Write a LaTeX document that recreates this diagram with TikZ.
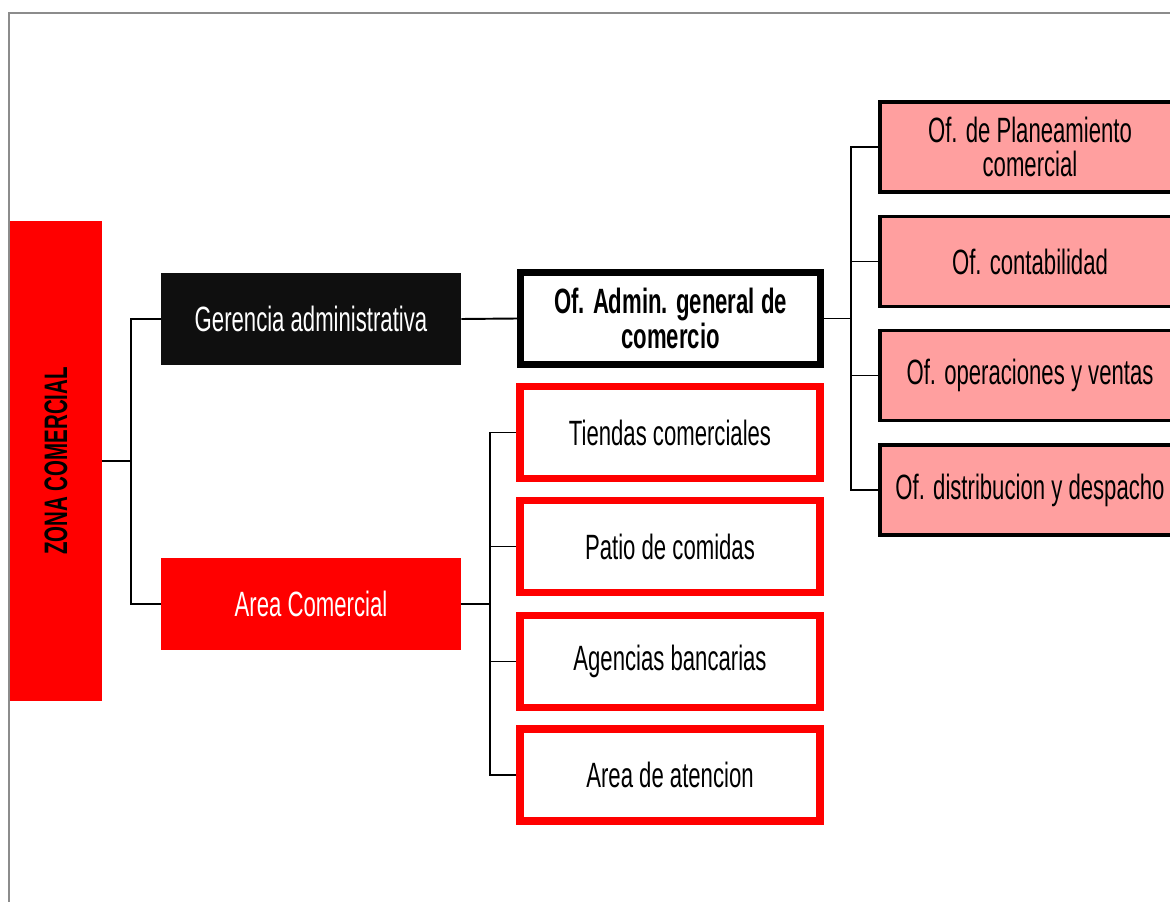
\documentclass[tikz,border=0pt]{standalone}
\usepackage{fontspec}
\setmainfont{Liberation Sans}[FakeStretch=0.63]
\definecolor{zonared}{HTML}{FF0000}
\definecolor{ofipink}{HTML}{FF9F9F}
\definecolor{gerblack}{HTML}{0F0F0F}
\definecolor{framegray}{HTML}{8C8C8C}

\begin{document}
\begin{tikzpicture}[x=0.02cm, y=-0.02cm,
    box/.style={minimum width=6cm, minimum height=1.84cm, inner sep=0pt, align=center,
      font=\fontsize{20}{19}\selectfont},
    solidbox/.style={box, fill=#1, text=white},
    redbox/.style={box, draw=zonared, line width=0.15cm, fill=white},
    pinkbox/.style={box, draw=black, line width=0.07cm, fill=ofipink, minimum height=1.8cm},
    link/.style={line width=1.1pt}]
  \useasboundingbox (0,0) rectangle (1170,902);
  \clip (0,0) rectangle (1170,902);
  \draw[framegray, line width=1.2pt] (9,905) -- (9,13) -- (1175,13);

  % level 0
  \node[rotate=90, fill=zonared, minimum width=9.6cm, minimum height=1.84cm, inner sep=0pt,
    font=\fontsize{18.5}{20}\selectfont\bfseries] (zona) at (56,461) {ZONA COMERCIAL};

  % level 1
  \node[solidbox=gerblack] (ger) at (311,319) {Gerencia administrativa};
  \node[solidbox=zonared] (area) at (311,604) {Area Comercial};

  % level 2
  \node[box, draw=black, line width=0.14cm, fill=white, font=\fontsize{20}{19.5}\selectfont\bfseries]
    (admin) at (670.5,318.5) {Of. Admin. general de\\comercio};
  \node[redbox] (tiendas) at (670,432.5) {Tiendas comerciales};
  \node[redbox] (patio) at (670,546.5) {Patio de comidas};
  \node[redbox] (agencias) at (670,661.5) {Agencias bancarias};
  \node[redbox] (atencion) at (670,775) {Area de atencion};

  % level 3
  \node[pinkbox] (plan) at (1030,147) {Of. de Planeamiento\\comercial};
  \node[pinkbox] (conta) at (1030,261.5) {Of. contabilidad};
  \node[pinkbox] (oper) at (1030,375.5) {Of. operaciones y ventas};
  \node[pinkbox] (distr) at (1030,490) {Of. distribucion y despacho};

  % connectors (zona is rotated, so its right side is .south)
  \draw[link] (zona.south) -- ++(29,0) coordinate (zj) |- (ger.west);
  \draw[link] (zj) |- (area.west);
  \draw[link] (ger.east) -- (admin.west);
  \draw[link] (area.east) -- ++(29,0) coordinate (aj) |- (tiendas.west);
  \foreach \n in {patio,agencias,atencion}
    \draw[link] (aj) |- (\n.west);
  \draw[link] (admin.east) -- ++(27,0) coordinate (oj) |- (plan.west);
  \foreach \n in {conta,oper,distr}
    \draw[link] (oj) |- (\n.west);
\end{tikzpicture}
\end{document}
